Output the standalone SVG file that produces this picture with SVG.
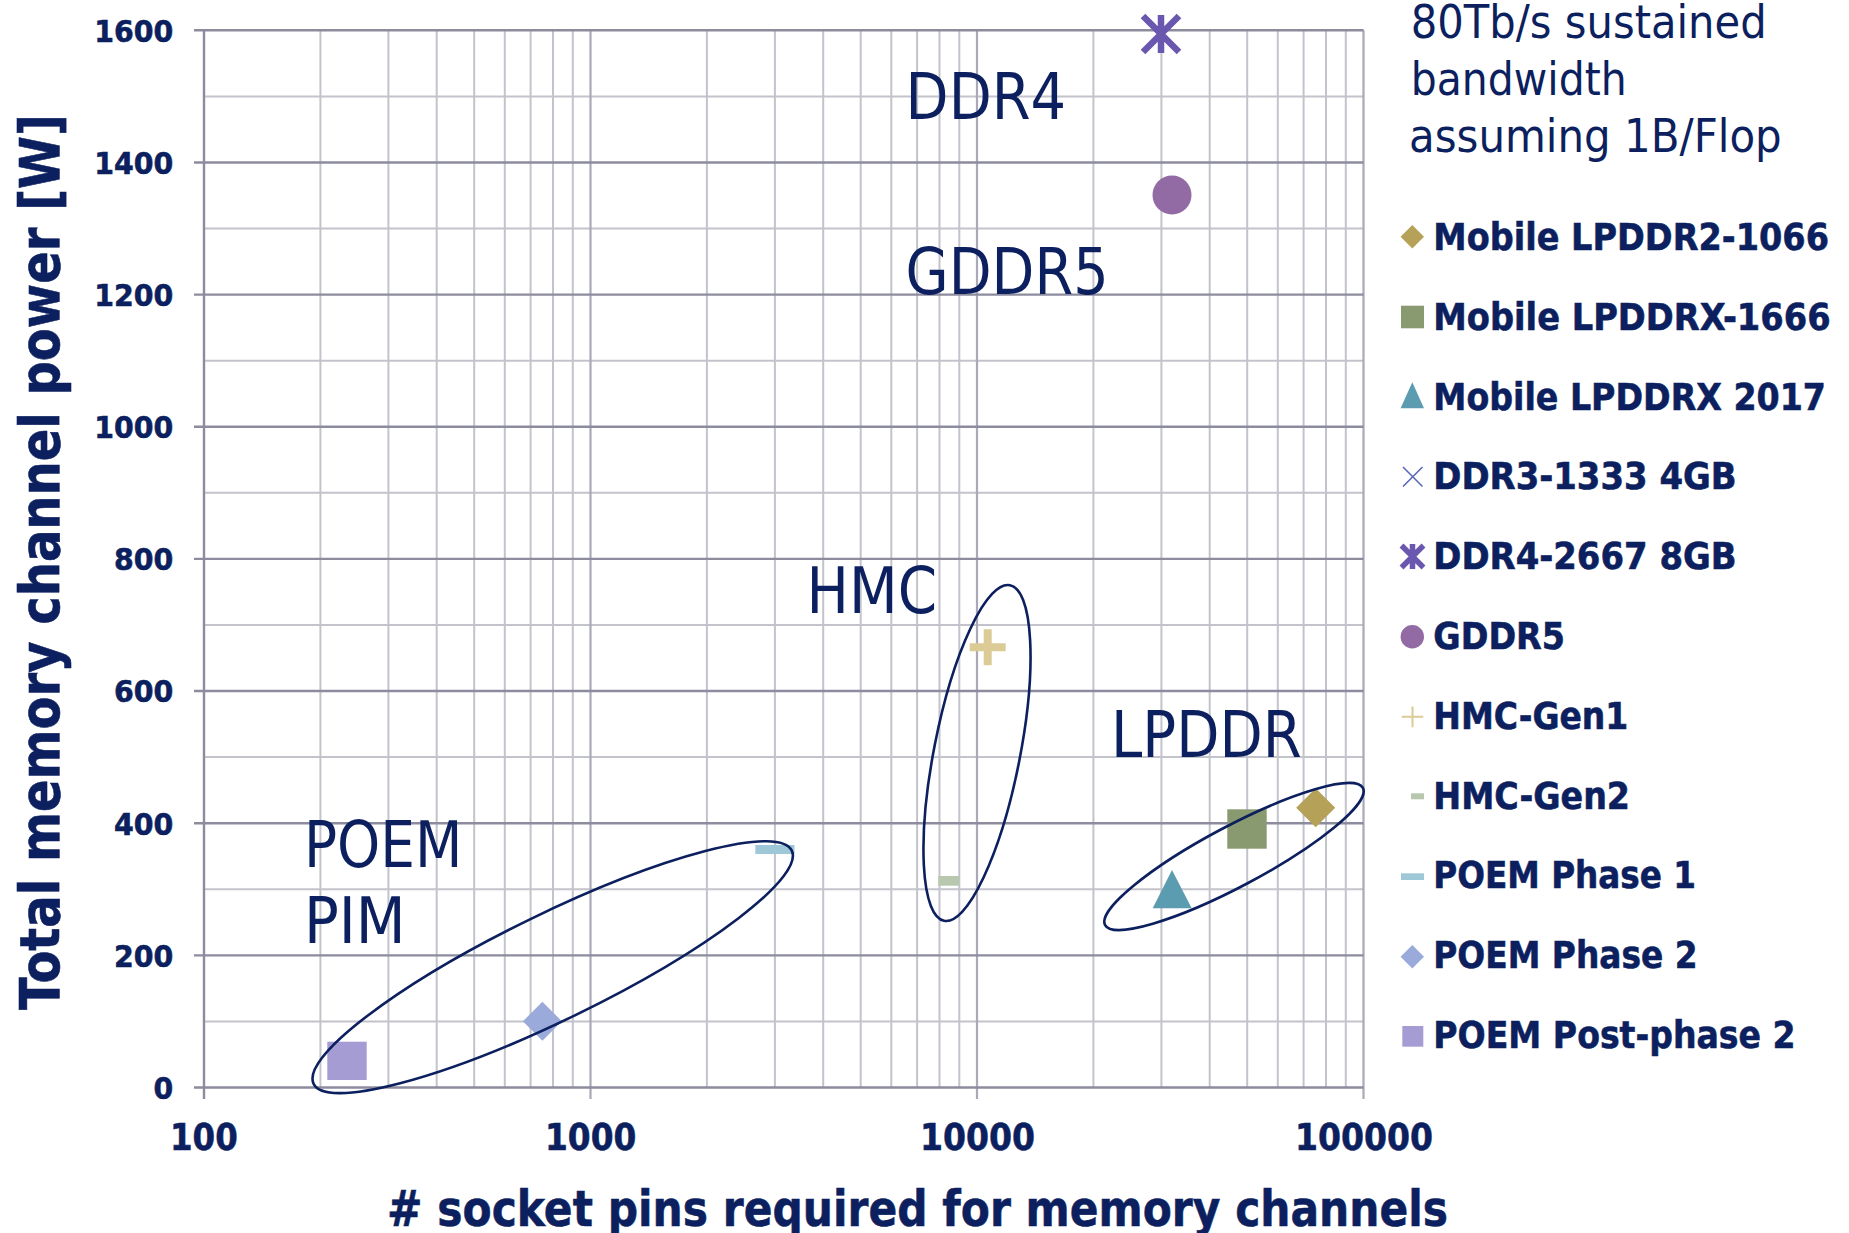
<svg xmlns="http://www.w3.org/2000/svg" width="1849" height="1233" viewBox="0 0 1849 1233">
<style>
.minor{stroke:#c3c3cc;stroke-width:2;fill:none}
.major{stroke:#8c8c9e;stroke-width:2.4;fill:none}
.dec{stroke:#a9a9b8;stroke-width:2.2;fill:none}
.tk{font-family:"DejaVu Sans",sans-serif;font-weight:bold;fill:#0c1f5e;stroke:#0c1f5e;stroke-width:0.6}
.reg{font-family:"DejaVu Sans",sans-serif;fill:#0c1f5e}
.ell{fill:none;stroke:#0c1f5e;stroke-width:2.6}
</style>
<rect width="1849" height="1233" fill="#ffffff"/>
<g id="grid">
<path class="minor" d="M204 1021.4H1363.5M204 889.3H1363.5M204 757.1H1363.5M204 625H1363.5M204 492.8H1363.5M204 360.7H1363.5M204 228.5H1363.5M204 96.4H1363.5"/>
<path class="minor" d="M320.4 30.3V1087.5M388.4 30.3V1087.5M436.7 30.3V1087.5M474.2 30.3V1087.5M504.8 30.3V1087.5M530.6 30.3V1087.5M553 30.3V1087.5M572.8 30.3V1087.5M706.9 30.3V1087.5M774.9 30.3V1087.5M823.2 30.3V1087.5M860.7 30.3V1087.5M891.3 30.3V1087.5M917.1 30.3V1087.5M939.5 30.3V1087.5M959.3 30.3V1087.5M1093.4 30.3V1087.5M1161.4 30.3V1087.5M1209.7 30.3V1087.5M1247.2 30.3V1087.5M1277.8 30.3V1087.5M1303.6 30.3V1087.5M1326 30.3V1087.5M1345.8 30.3V1087.5"/>
<path class="dec" d="M590.5 30.3V1099M977 30.3V1099M1363.5 30.3V1099"/>
<path class="major" d="M194 1087.5H1363.5M194 955.35H1363.5M194 823.2H1363.5M194 691.05H1363.5M194 558.9H1363.5M194 426.75H1363.5M194 294.6H1363.5M194 162.45H1363.5M194 30.3H1363.5"/>
<path class="major" d="M204 30.3V1099"/>
</g>
<g id="y-ticks" class="tk" font-size="30.5">
<text x="153.6" y="1098.9" textLength="19.7" lengthAdjust="spacingAndGlyphs">0</text>
<text x="114" y="966.7" textLength="59.3" lengthAdjust="spacingAndGlyphs">200</text>
<text x="114" y="834.6" textLength="59.3" lengthAdjust="spacingAndGlyphs">400</text>
<text x="114" y="702.4" textLength="59.3" lengthAdjust="spacingAndGlyphs">600</text>
<text x="114" y="570.3" textLength="59.3" lengthAdjust="spacingAndGlyphs">800</text>
<text x="94.3" y="438.2" textLength="79" lengthAdjust="spacingAndGlyphs">1000</text>
<text x="94.3" y="306" textLength="79" lengthAdjust="spacingAndGlyphs">1200</text>
<text x="94.3" y="173.9" textLength="79" lengthAdjust="spacingAndGlyphs">1400</text>
<text x="94.3" y="41.7" textLength="79" lengthAdjust="spacingAndGlyphs">1600</text>
</g>
<g id="x-ticks" class="tk" font-size="36.6">
<text x="170" y="1150" textLength="67.7" lengthAdjust="spacingAndGlyphs">100</text>
<text x="545" y="1150" textLength="91.4" lengthAdjust="spacingAndGlyphs">1000</text>
<text x="920" y="1150" textLength="115" lengthAdjust="spacingAndGlyphs">10000</text>
<text x="1295" y="1150" textLength="138" lengthAdjust="spacingAndGlyphs">100000</text>
</g>
<g id="y-title" class="tk" font-size="56">
<text transform="translate(59,562) rotate(-90)" x="-448" y="0" textLength="896" lengthAdjust="spacingAndGlyphs">Total memory channel power [W]</text>
</g>
<g id="x-title" class="tk" font-size="49">
<text x="387" y="1226" textLength="1061" lengthAdjust="spacingAndGlyphs"># socket pins required for memory channels</text>
</g>
<g id="title" class="reg" font-size="46.5">
<text x="1410.7" y="37.7" textLength="356" lengthAdjust="spacingAndGlyphs">80Tb/s sustained</text>
<text x="1410.7" y="95" textLength="216" lengthAdjust="spacingAndGlyphs">bandwidth</text>
<text x="1409" y="151.7" textLength="372.7" lengthAdjust="spacingAndGlyphs">assuming 1B/Flop</text>
</g>
<g id="series-markers">
<g id="pt-ddr4"><path d="M1143 16L1179 52M1179 16L1143 52M1161 15V53" stroke="#6a58b0" stroke-width="6.5" fill="none"/></g>
<g id="pt-gddr5"><circle cx="1172" cy="195" r="19.5" fill="#926aa4"/></g>
<g id="pt-hmc1"><path d="M969.7 647.3H1005.7M987.7 629.3V665.3" stroke="#dccb96" stroke-width="8" fill="none"/></g>
<g id="pt-hmc2"><rect x="938.3" y="876" width="21" height="9.7" fill="#b8c8ae"/></g>
<g id="pt-lpddr2"><path d="M1315.7 788.2L1335.2 807.7L1315.7 827.2L1296.2 807.7Z" fill="#b5a258"/></g>
<g id="pt-lpddrx1666"><rect x="1227.3" y="809.3" width="39.4" height="39.4" fill="#8a9a70"/></g>
<g id="pt-lpddrx2017"><path d="M1172 870L1191.7 908.3H1152.7Z" fill="#5c9cb0"/></g>
<g id="pt-poem1"><rect x="755.3" y="845" width="39.2" height="9" fill="#9ec8d8"/></g>
<g id="pt-poem2"><path d="M542.4 1001.8L561.9 1021.3L542.4 1040.8L522.9 1021.3Z" fill="#9aaada"/></g>
<g id="pt-poempost"><rect x="327.3" y="1041.7" width="39.4" height="38.3" fill="#a69cd4"/></g>
</g>
<g id="groups">
<g id="grp-poem">
<ellipse class="ell" cx="552.7" cy="967.2" rx="266" ry="53" transform="rotate(-26 552.7 967.2)"/>
<text class="reg" font-size="64" x="303.9" y="866.7" textLength="158.5" lengthAdjust="spacingAndGlyphs">POEM</text>
<text class="reg" font-size="64" x="303.9" y="943.3" textLength="101.7" lengthAdjust="spacingAndGlyphs">PIM</text>
</g>
<g id="grp-hmc">
<ellipse class="ell" cx="977" cy="753" rx="171" ry="43" transform="rotate(-78.9 977 753)"/>
<text class="reg" font-size="64" x="806.6" y="613.3" textLength="130.4" lengthAdjust="spacingAndGlyphs">HMC</text>
</g>
<g id="grp-lpddr">
<ellipse class="ell" cx="1234" cy="856.5" rx="146" ry="30" transform="rotate(-28 1234 856.5)"/>
<text class="reg" font-size="64" x="1111" y="757.3" textLength="190.7" lengthAdjust="spacingAndGlyphs">LPDDR</text>
</g>
<g id="grp-ddr4">
<text class="reg" font-size="64" x="905.6" y="119" textLength="160.5" lengthAdjust="spacingAndGlyphs">DDR4</text>
</g>
<g id="grp-gddr5">
<text class="reg" font-size="64" x="905.6" y="294" textLength="203" lengthAdjust="spacingAndGlyphs">GDDR5</text>
</g>
</g>
<g id="legend">
<g class="tk" font-size="36.5">
<text x="1433.3" y="250" textLength="395.7" lengthAdjust="spacingAndGlyphs">Mobile LPDDR2-1066</text>
<text x="1433.3" y="329.8" textLength="397.3" lengthAdjust="spacingAndGlyphs">Mobile LPDDRX-1666</text>
<text x="1433.3" y="409.6" textLength="392.7" lengthAdjust="spacingAndGlyphs">Mobile LPDDRX 2017</text>
<text x="1433.3" y="489.4" textLength="303.3" lengthAdjust="spacingAndGlyphs">DDR3-1333 4GB</text>
<text x="1433.3" y="569.2" textLength="303.3" lengthAdjust="spacingAndGlyphs">DDR4-2667 8GB</text>
<text x="1433.3" y="649" textLength="131.7" lengthAdjust="spacingAndGlyphs">GDDR5</text>
<text x="1433.3" y="728.8" textLength="195" lengthAdjust="spacingAndGlyphs">HMC-Gen1</text>
<text x="1433.3" y="808.6" textLength="196.7" lengthAdjust="spacingAndGlyphs">HMC-Gen2</text>
<text x="1433.3" y="888.4" textLength="262.7" lengthAdjust="spacingAndGlyphs">POEM Phase 1</text>
<text x="1433.3" y="968.2" textLength="264.3" lengthAdjust="spacingAndGlyphs">POEM Phase 2</text>
<text x="1433.3" y="1048" textLength="362.3" lengthAdjust="spacingAndGlyphs">POEM Post-phase 2</text>
</g>
<path d="M1412.3 225L1424 236.7L1412.3 248.4L1400.6 236.7Z" fill="#b5a258"/>
<rect x="1401" y="305.7" width="23" height="22.6" fill="#8a9a70"/>
<path d="M1412.3 382.3L1424 408.3H1400.6Z" fill="#5c9cb0"/>
<path d="M1403 467L1422.5 486.5M1422.5 467L1403 486.5" stroke="#5a68b8" stroke-width="1.6" fill="none"/>
<path d="M1401.5 545.5L1423.5 567.5M1423.5 545.5L1401.5 567.5M1412.5 544V569" stroke="#6a58b0" stroke-width="5.5" fill="none"/>
<circle cx="1412.3" cy="636.7" r="11.7" fill="#926aa4"/>
<path d="M1401.7 716.7H1423.3M1412.5 706.5V727.3" stroke="#dccb96" stroke-width="2" fill="none"/>
<rect x="1411" y="793.3" width="13" height="6" fill="#b8c8ae"/>
<rect x="1401" y="873.3" width="23" height="6.7" fill="#9ec8d8"/>
<path d="M1412.3 945L1424 956.7L1412.3 968.4L1400.6 956.7Z" fill="#9aaada"/>
<rect x="1402.3" y="1026" width="21" height="20.7" fill="#a69cd4"/>
</g>
</svg>
